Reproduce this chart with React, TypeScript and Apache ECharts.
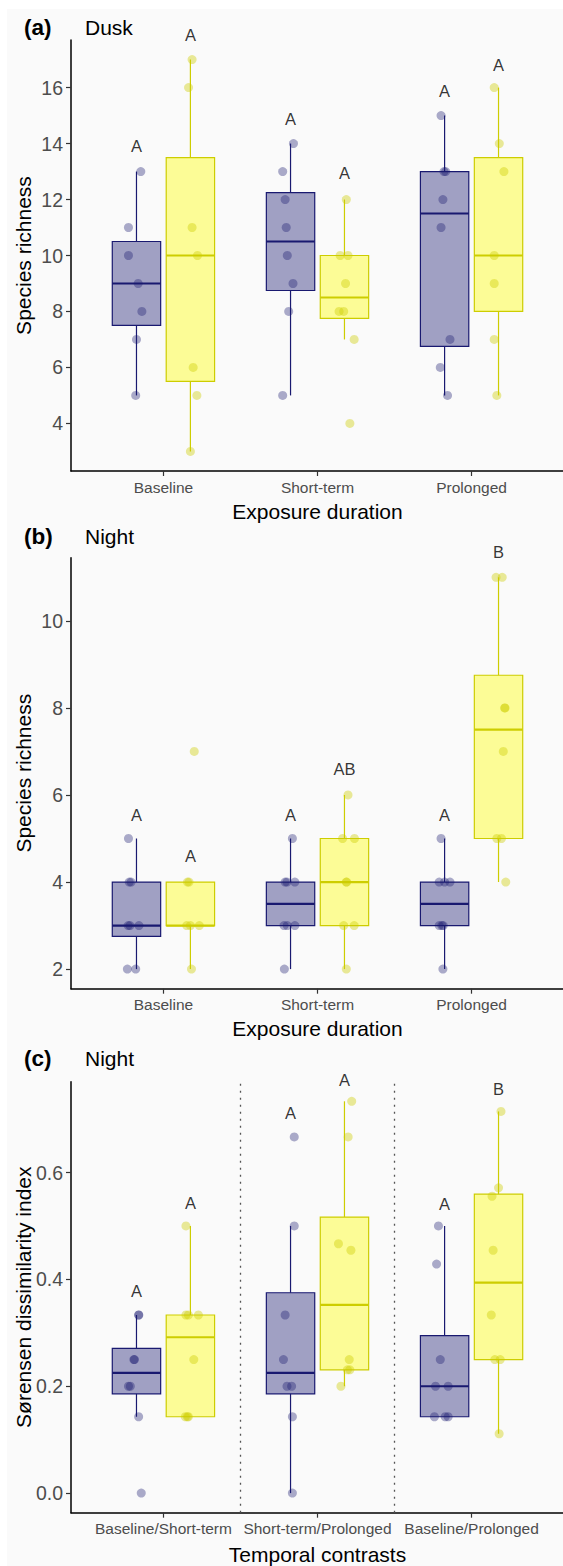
import React, { useEffect, useRef } from "react";
import * as echarts from "echarts";

// ---------- categories ----------
const durationCategories = ["Baseline", "Short-term", "Prolonged"];
const contrastCategories = ["Baseline/Short-term", "Short-term/Prolonged", "Baseline/Prolonged"];

// ---------- (a) Dusk: species richness ----------
const duskBlueValues = [
  [13, 11, 10, 9, 8, 7, 5],
  [14, 13, 12, 11, 10, 9, 8, 5],
  [15, 13, 13, 12, 11, 7, 6, 5],
];
const duskBlueJitter = [
  [0.028, -0.052, -0.052, 0.011, 0.035, 0, -0.005],
  [0.019, -0.051, -0.035, -0.028, -0.021, 0.016, -0.012, -0.051],
  [-0.023, -0.004, 0.007, -0.011, -0.023, 0.035, -0.028, 0.019],
];
const duskYellowValues = [
  [17, 16, 11, 10, 6, 5, 3],
  [12, 10, 10, 9, 8, 8, 7, 4],
  [16, 14, 13, 10, 9, 7, 5],
];
const duskYellowJitter = [
  [0.011, -0.012, 0.011, 0.046, 0.018, 0.042, 0],
  [0.012, -0.028, 0.023, 0.007, -0.035, -0.005, 0.063, 0.035],
  [-0.028, 0.005, 0.035, -0.028, -0.028, -0.028, -0.011],
];
const duskBlueLetters = ["A", "A", "A"];
const duskBlueLetterY = [13.9, 14.86, 15.86];
const duskYellowLetters = ["A", "A", "A"];
const duskYellowLetterY = [17.87, 12.94, 16.8];
const duskTicks = [4, 6, 8, 10, 12, 14, 16];

// ---------- (b) Night: species richness ----------
const nightBlueValues = [
  [5, 4, 4, 3, 3, 3, 2, 2],
  [5, 4, 4, 4, 3, 3, 3, 2],
  [5, 4, 4, 4, 3, 3, 3, 2],
];
const nightBlueJitter = [
  [-0.052, -0.047, -0.035, -0.054, -0.042, 0.016, -0.059, -0.005],
  [0.012, -0.035, -0.023, 0.028, -0.042, -0.021, 0.028, -0.04],
  [-0.023, -0.035, 0, 0.035, -0.035, -0.018, -0.009, -0.011],
];
const nightYellowValues = [
  [7, 4, 4, 3, 3, 3, 2],
  [6, 5, 5, 4, 4, 3, 3, 2],
  [11, 11, 8, 8, 7, 5, 5, 4],
];
const nightYellowJitter = [
  [0.025, -0.019, -0.009, -0.024, 0, 0.058, 0.007],
  [0.023, -0.012, 0.065, 0.012, 0.014, -0.005, 0.063, 0.012],
  [-0.016, 0.024, 0.042, 0.04, 0.031, -0.011, 0.019, 0.047],
];
const nightBlueLetters = ["A", "A", "A"];
const nightBlueLetterY = [5.54, 5.54, 5.54];
const nightYellowLetters = ["A", "AB", "B"];
const nightYellowLetterY = [4.59, 6.59, 11.58];
const nightTicks = [2, 4, 6, 8, 10];

// ---------- (c) Night: Sørensen dissimilarity ----------
const sorensenBlueValues = [
  [0.3333, 0.3333, 0.25, 0.25, 0.2, 0.2, 0.1429, 0],
  [0.6667, 0.5, 0.3333, 0.25, 0.2, 0.2, 0.1429, 0],
  [0.5, 0.4286, 0.25, 0.2, 0.2, 0.1429, 0.1429, 0.1429],
];
const sorensenBlueJitter = [
  [0.014, 0.015, -0.017, -0.013, -0.052, -0.04, 0.014, 0.031],
  [0.024, 0.024, -0.035, -0.046, -0.023, 0.007, 0.012, 0.012],
  [-0.04, -0.052, -0.028, -0.059, 0.023, -0.066, 0.004, 0.023],
];
const sorensenYellowValues = [
  [0.5, 0.3333, 0.3333, 0.3333, 0.25, 0.1429, 0.1429, 0.1429],
  [0.7333, 0.6667, 0.4667, 0.4545, 0.25, 0.2308, 0.2308, 0.2],
  [0.7143, 0.5714, 0.5556, 0.4545, 0.3333, 0.25, 0.25, 0.1111],
];
const sorensenYellowJitter = [
  [-0.029, -0.029, -0.013, 0.052, 0.022, -0.033, -0.02, -0.013],
  [0.047, 0.024, -0.039, 0.042, 0.031, 0.019, 0.035, -0.023],
  [0.016, 0, -0.042, -0.035, -0.047, -0.024, 0.011, 0.004],
];
const sorensenBlueLetters = ["A", "A", "A"];
const sorensenBlueLetterY = [0.378, 0.712, 0.541];
const sorensenYellowLetters = ["A", "A", "B"];
const sorensenYellowLetterY = [0.543, 0.773, 0.756];
const sorensenTicks = [0, 0.2, 0.4, 0.6];
const contrastDividers = [1.5, 2.5];

// ---------- styling ----------
const FONT = "'Liberation Sans', Arial, Helvetica, sans-serif";
const DODGE = 0.175;
const BOX_WIDTH = 0.314;
const GROUP_STYLE = [
  { line: "#191970", fill: "rgba(25,25,112,0.4)", point: "rgba(25,25,112,0.45)" },
  { line: "#cdcd00", fill: "rgba(255,255,0,0.4)", point: "rgba(205,205,0,0.5)" },
];

function quantile(sorted: number[], p: number) {
  const h = (sorted.length - 1) * p;
  const lo = Math.floor(h);
  const hi = Math.min(lo + 1, sorted.length - 1);
  return sorted[lo] + (h - lo) * (sorted[hi] - sorted[lo]);
}

function boxStats(values: number[]) {
  const s = [...values].sort((a, b) => a - b);
  const q1 = quantile(s, 0.25);
  const med = quantile(s, 0.5);
  const q3 = quantile(s, 0.75);
  const iqr = q3 - q1;
  const lo = s.filter((v) => v >= q1 - 1.5 * iqr);
  const hi = s.filter((v) => v <= q3 + 1.5 * iqr);
  return [Math.min(...lo), q1, med, q3, Math.max(...hi)];
}

function renderBox(params: any, api: any) {
  const x = api.value(0);
  const lw = api.value(1);
  const q1 = api.value(2);
  const med = api.value(3);
  const q3 = api.value(4);
  const uw = api.value(5);
  const g = api.value(6);
  const st = GROUP_STYLE[g];
  const halfW = api.size([BOX_WIDTH, 0])[0] / 2;
  const pQ3 = api.coord([x, q3]);
  const pQ1 = api.coord([x, q1]);
  const pMed = api.coord([x, med]);
  const pLw = api.coord([x, lw]);
  const pUw = api.coord([x, uw]);
  const cx = pQ3[0];
  return {
    type: "group",
    children: [
      { type: "line", shape: { x1: cx, y1: pUw[1], x2: cx, y2: pQ3[1] }, style: { stroke: st.line, lineWidth: 1.2 } },
      { type: "line", shape: { x1: cx, y1: pQ1[1], x2: cx, y2: pLw[1] }, style: { stroke: st.line, lineWidth: 1.2 } },
      {
        type: "rect",
        shape: { x: cx - halfW, y: pQ3[1], width: halfW * 2, height: pQ1[1] - pQ3[1] },
        style: { fill: st.fill, stroke: st.line, lineWidth: 1.2 },
      },
      {
        type: "line",
        shape: { x1: cx - halfW, y1: pMed[1], x2: cx + halfW, y2: pMed[1] },
        style: { stroke: st.line, lineWidth: 2.2 },
      },
    ],
  };
}

const panels = [
  {
    label: "(a)", title: "Dusk", cats: durationCategories,
    groups: [
      { values: duskBlueValues, jitter: duskBlueJitter, letters: duskBlueLetters, letterY: duskBlueLetterY },
      { values: duskYellowValues, jitter: duskYellowJitter, letters: duskYellowLetters, letterY: duskYellowLetterY },
    ],
    ticks: duskTicks, decimals: 0, xName: "Exposure duration", yName: "Species richness",
    top: 40, titleY: 27.5, xNameGap: 30, dividers: [] as number[],
  },
  {
    label: "(b)", title: "Night", cats: durationCategories,
    groups: [
      { values: nightBlueValues, jitter: nightBlueJitter, letters: nightBlueLetters, letterY: nightBlueLetterY },
      { values: nightYellowValues, jitter: nightYellowJitter, letters: nightYellowLetters, letterY: nightYellowLetterY },
    ],
    ticks: nightTicks, decimals: 0, xName: "Exposure duration", yName: "Species richness",
    top: 557.7, titleY: 536.7, xNameGap: 29, dividers: [] as number[],
  },
  {
    label: "(c)", title: "Night", cats: contrastCategories,
    groups: [
      { values: sorensenBlueValues, jitter: sorensenBlueJitter, letters: sorensenBlueLetters, letterY: sorensenBlueLetterY },
      { values: sorensenYellowValues, jitter: sorensenYellowJitter, letters: sorensenYellowLetters, letterY: sorensenYellowLetterY },
    ],
    ticks: sorensenTicks, decimals: 1, xName: "Temporal contrasts", yName: "Sørensen dissimilarity index",
    top: 1081.7, titleY: 1058.3, xNameGap: 31, dividers: contrastDividers,
  },
];

function buildOption() {
  const grid: any[] = [];
  const xAxis: any[] = [];
  const yAxis: any[] = [];
  const series: any[] = [];
  const graphic: any[] = [
    { type: "rect", shape: { x: 7, y: 9, width: 560, height: 1560 }, style: { fill: "#fafafa" }, z: -10, silent: true },
  ];

  panels.forEach((p, pi) => {
    const all = p.groups.flatMap((g) => g.values.flat());
    const dmin = Math.min(...all);
    const dmax = Math.max(...all);
    const pad = (dmax - dmin) * 0.05;

    grid.push({ left: 71, width: 493, top: p.top, height: 431, containLabel: false, outerBoundsMode: "none" });
    xAxis.push({
      type: "value", gridIndex: pi, min: 0.4, max: 3.6,
      name: p.xName, nameLocation: "middle", nameGap: p.xNameGap, nameMoveOverlap: false,
      nameTextStyle: { fontSize: 21, color: "#000", fontFamily: FONT },
      splitLine: { show: false },
      axisLine: { show: true, onZero: false, lineStyle: { color: "#000", width: 1.5 } },
      axisTick: { show: true, customValues: [1, 2, 3], length: 5, lineStyle: { color: "#333", width: 1.2 } },
      axisLabel: {
        customValues: [1, 2, 3], margin: 8, fontSize: 15.5, color: "#4d4d4d", fontFamily: FONT,
        formatter: (v: number) => p.cats[Math.round(v) - 1] ?? "",
      },
    });
    yAxis.push({
      type: "value", gridIndex: pi, min: dmin - pad, max: dmax + pad,
      name: p.yName, nameLocation: "middle", nameRotate: 90, nameGap: 37.5, nameMoveOverlap: false,
      nameTextStyle: { fontSize: 21, color: "#000", fontFamily: FONT },
      splitLine: { show: false },
      axisLine: { show: true, onZero: false, lineStyle: { color: "#000", width: 1.5 } },
      axisTick: { show: true, customValues: p.ticks, length: 5, lineStyle: { color: "#333", width: 1.2 } },
      axisLabel: {
        customValues: p.ticks, margin: 8, fontSize: 19.5, color: "#4d4d4d", fontFamily: FONT,
        formatter: (v: number) => v.toFixed(p.decimals),
      },
    });

    const boxData: any[] = [];
    p.groups.forEach((g, gi) => {
      const offset = gi === 0 ? -DODGE : DODGE;
      g.values.forEach((vals, ci) => {
        const [lw, q1, med, q3, uw] = boxStats(vals);
        boxData.push([ci + 1 + offset, lw, q1, med, q3, uw, gi]);
      });
    });
    series.push({
      type: "custom", xAxisIndex: pi, yAxisIndex: pi, renderItem: renderBox, z: 2, silent: true,
      dimensions: ["x", "lw", "q1", "med", "q3", "uw", "g"],
      encode: { x: 0, y: [1, 2, 3, 4, 5] },
      data: boxData,
    });

    p.groups.forEach((g, gi) => {
      const offset = gi === 0 ? -DODGE : DODGE;
      const pts: number[][] = [];
      g.values.forEach((vals, ci) => {
        vals.forEach((v, k) => pts.push([ci + 1 + offset + g.jitter[ci][k], v]));
      });
      const s: any = {
        type: "scatter", xAxisIndex: pi, yAxisIndex: pi, z: 3, silent: true,
        symbol: "circle", symbolSize: 9, itemStyle: { color: GROUP_STYLE[gi].point },
        data: pts,
      };
      if (gi === 0 && p.dividers.length) {
        s.markLine = {
          silent: true, symbol: ["none", "none"], label: { show: false },
          lineStyle: { type: [2, 5], color: "#555", width: 1.3 },
          data: p.dividers.map((d) => ({ xAxis: d })),
        };
      }
      series.push(s);
      series.push({
        type: "scatter", xAxisIndex: pi, yAxisIndex: pi, z: 4, silent: true, clip: false,
        symbolSize: 1, itemStyle: { color: "rgba(0,0,0,0)" },
        label: { show: true, position: "inside", formatter: "{b}", fontSize: 16.5, color: "#000", fontFamily: FONT },
        data: g.letters.map((L, ci) => ({ name: L, value: [ci + 1 + offset, g.letterY[ci]] })),
      });
    });

    graphic.push({
      type: "text", x: 24, y: p.titleY, silent: true,
      style: { text: p.label, fontSize: 22.5, fontWeight: "bold", fontFamily: FONT, fill: "#000", verticalAlign: "middle" },
    });
    graphic.push({
      type: "text", x: 85, y: p.titleY, silent: true,
      style: { text: p.title, fontSize: 21, fontFamily: FONT, fill: "#000", verticalAlign: "middle" },
    });
  });

  return {
    animation: false,
    backgroundColor: "#ffffff",
    textStyle: { fontFamily: FONT },
    grid, xAxis, yAxis, series, graphic,
  };
}

export default function App() {
  const ref = useRef<HTMLDivElement>(null);
  useEffect(() => {
    if (!ref.current) return;
    const chart = echarts.init(ref.current, undefined, { renderer: "svg" });
    chart.setOption(buildOption() as any);
    return () => chart.dispose();
  }, []);
  return <div ref={ref} style={{ position: "absolute", left: 0, top: 0, width: 563, height: 1566 }} />;
}
